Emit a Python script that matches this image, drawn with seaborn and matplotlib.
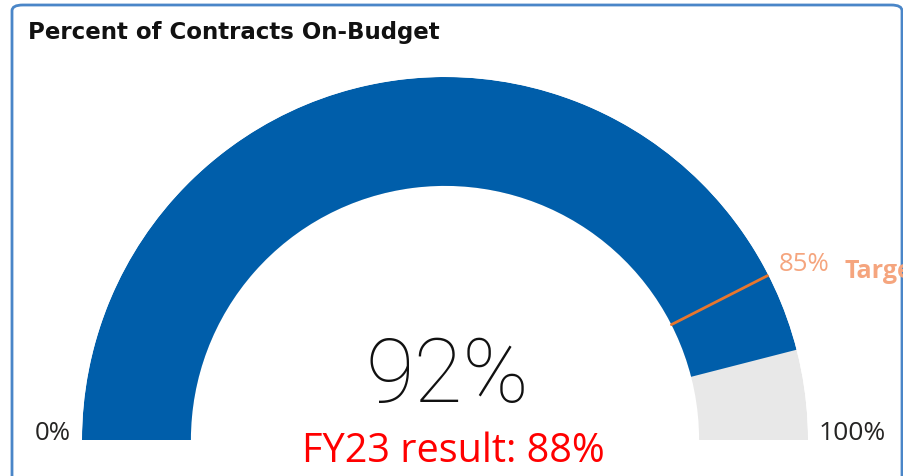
import numpy as np
import matplotlib
matplotlib.use("Agg")
import matplotlib.pyplot as plt
import seaborn as sns
from matplotlib.patches import FancyBboxPatch

sns.set_theme(style="white")
plt.rcParams['font.family'] = ['Open Sans', 'DejaVu Sans']

# gauge data
gauge_min = 0
gauge_max = 100
actual = 92
target = 85
prior_label = "FY23 result: 88%"
title = "Percent of Contracts On-Budget"

blue = "#005EAA"
track = "#E8E8E8"
target_col = "#E8762D"
target_txt = "#F5A57E"

W, H = 904, 476
fig = plt.figure(figsize=(W / 100, H / 100), dpi=100)

# card border
card = FancyBboxPatch((12 / W, -20 / H), 890 / W, (H - 5 + 20) / H,
                      boxstyle="round,pad=0,rounding_size=0.012",
                      transform=fig.transFigure, fill=False,
                      edgecolor="#4A86C8", linewidth=2)
fig.patches.append(card)

# polar axes centred on the gauge hub
cx, cy, R = 445, 440, 363
ax = fig.add_axes([(cx - R) / W, (H - cy - R) / H, 2 * R / W, 2 * R / H],
                  projection="polar")
ax.set_theta_zero_location("W")
ax.set_theta_direction(-1)
ax.set_ylim(0, 1)
ax.set_facecolor("none")
ax.grid(False)
ax.set_xticks([])
ax.set_yticks([])
ax.spines["polar"].set_visible(False)

r_in = 0.70
to_theta = lambda v: np.pi * (v - gauge_min) / (gauge_max - gauge_min)

ax.bar(to_theta(gauge_min), 1 - r_in, width=to_theta(gauge_max), bottom=r_in,
       align="edge", color=track, linewidth=0)
ax.bar(to_theta(gauge_min), 1 - r_in, width=to_theta(actual), bottom=r_in,
       align="edge", color=blue, linewidth=0)
ax.plot([to_theta(target)] * 2, [r_in, 1.0], color=target_col, lw=2)

# labels
ax.text(to_theta(gauge_min), 1.03, f"{gauge_min}%", ha="right", va="baseline",
        fontsize=18.5, color="#252423")
ax.text(to_theta(gauge_max), 1.03, f"{gauge_max}%", ha="left", va="baseline",
        fontsize=19, color="#252423")

fig.text(779 / W, 1 - 271 / H, f"{target}%", ha="left", va="baseline",
         fontsize=18.5, color=target_txt)
fig.text(845 / W, 1 - 278 / H, "Target", ha="left", va="baseline",
         fontsize=18, color=target_txt, fontweight="bold")

fig.text(28 / W, 1 - 39 / H, title, ha="left", va="baseline",
         fontsize=16.5, fontweight="bold", color="#111111",
         family=["DejaVu Sans"])

fig.text(447 / W, 1 - 402 / H, f"{actual}%", ha="center", va="baseline",
         fontsize=64, fontweight="light", color="#111111",
         family=["Roboto", "DejaVu Sans"])
fig.text(453 / W, 1 - 462 / H, prior_label, ha="center", va="baseline",
         fontsize=28.5, color="#FF0000")

fig.savefig("out.png", dpi=100)
